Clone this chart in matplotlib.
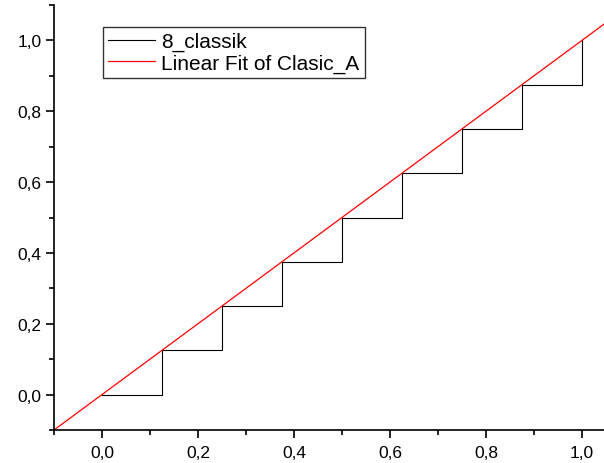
import numpy as np
import matplotlib
matplotlib.use('Agg')
import matplotlib.pyplot as plt
from matplotlib.ticker import MultipleLocator, FuncFormatter

plt.rcParams['font.family'] = ['Liberation Sans', 'DejaVu Sans']

# step data (8 levels)
step_x = [0.0, 0.125, 0.125, 0.25, 0.25, 0.375, 0.375, 0.5, 0.5,
          0.625, 0.625, 0.75, 0.75, 0.875, 0.875, 1.0, 1.0]
step_y = [0.0, 0.0, 0.125, 0.125, 0.25, 0.25, 0.375, 0.375, 0.5,
          0.5, 0.625, 0.625, 0.75, 0.75, 0.875, 0.875, 1.0]

# linear fit y = a + b*x
fit_a = 0.0
fit_b = 1.0
fit_x = np.array([-0.1, 1.06])
fit_y = fit_a + fit_b * fit_x

fig = plt.figure(figsize=(6.04, 4.64), dpi=100)
ax = fig.add_axes([54 / 604, 1 - 431 / 464, 550 / 604, 425 / 464])

ax.plot(step_x, step_y, color='black', lw=0.8, label='8_classik')
ax.plot(fit_x, fit_y, color='red', lw=0.9, label='Linear Fit of Clasic_A')

ax.set_xlim(-0.1, 1.046)
ax.set_ylim(-0.1, 1.1)

ax.spines['top'].set_visible(False)
ax.spines['right'].set_visible(False)
ax.spines['left'].set_linewidth(1.2)
ax.spines['bottom'].set_linewidth(1.2)

comma = FuncFormatter(lambda v, p: ('%.1f' % v).replace('.', ','))
for a in (ax.xaxis, ax.yaxis):
    a.set_major_locator(MultipleLocator(0.2))
    a.set_minor_locator(MultipleLocator(0.1))
    a.set_major_formatter(comma)
ax.tick_params(which='major', direction='out', length=6, width=1.2, labelsize=12.5)
ax.tick_params(which='minor', direction='out', length=3.5, width=1.2)
ax.tick_params(axis='x', pad=5)
ax.tick_params(axis='y', pad=3)

leg = ax.legend(loc='upper left', bbox_to_anchor=(103 / 604, 1 - 28 / 464),
                bbox_transform=fig.transFigure, fontsize=15, frameon=True,
                fancybox=False, edgecolor='black', handlelength=2.25,
                handletextpad=0.3, borderpad=0.25, labelspacing=0.1,
                borderaxespad=0)
leg.get_frame().set_linewidth(1.0)

plt.savefig('out.png', dpi=100)
